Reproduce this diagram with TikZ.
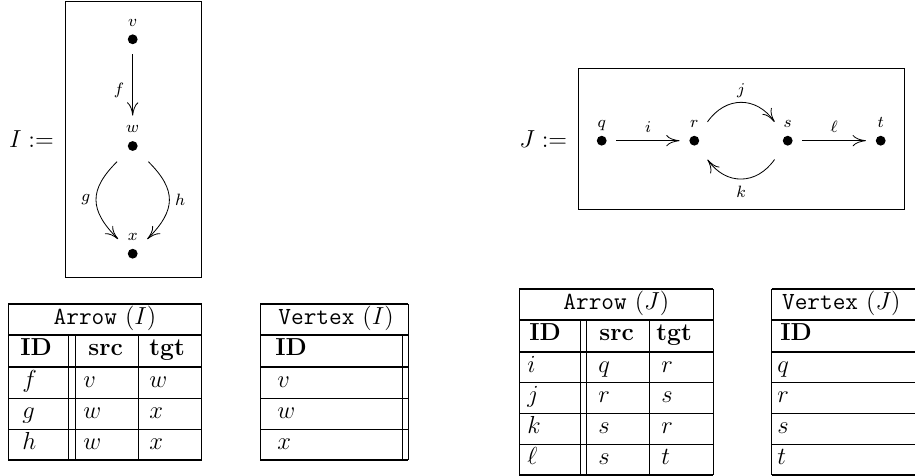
\documentclass[12pt,tikz,border=0pt]{standalone}
\usepackage{amsmath,amssymb}
\usetikzlibrary{arrows.meta, positioning, calc}

\begin{document}
\begin{tikzpicture}[
    x=0.4878pt, y=-0.4878pt,
    dot/.style={circle, fill, inner sep=0pt, minimum size=4.8pt},
    vlab/.style={font=\fontsize{8.5}{10}\selectfont, inner sep=0pt, text height=5.5pt, text depth=1.8pt},
    elab/.style={font=\fontsize{8.5}{10}\selectfont},
    arrow/.style={-{Computer Modern Rightarrow[length=6.5pt,width=5.5pt]}, shorten <=4.6pt, shorten >=4.6pt},
    bent/.style={arrow, shorten <=8.2pt, shorten >=7.4pt, looseness=1.45},
    graphbox/.style={draw, inner sep=0pt},
    cell/.style={anchor=west, inner sep=0pt, text height=7.5pt, text depth=3pt},
    title/.style={cell, anchor=center},
    rule/.style={line width=0.4pt},
    titlerule/.style={line width=0.6pt},
    headrule/.style={line width=1pt},
    outerrule/.style={line width=0.8pt}
]
\useasboundingbox (0,0) rectangle (915,476);

% graph I
\node[graphbox, minimum width=66.7pt, minimum height=134.6pt] (boxI) at (133.35,139) {};
\node[left=1pt of boxI] (defI) {$I :=$};

\node[dot] (v) at (132.7,39.3) {};
\node[dot] (w) at (132.7,146) {};
\node[dot] (x) at (132.7,253.7) {};
\node[vlab, above=1.8pt of v] (vl) {$v$};
\node[vlab, above=1.8pt of w] (wl) {$w$};
\node[vlab, above=1.8pt of x] (xl) {$x$};

\draw[arrow, shorten >=2.7pt] (v) -- (wl) node[elab, left, pos=0.6] {$f$};
\draw[bent] (w) to[out=-135, in=135] node[elab, left] {$g$} (x);
\draw[bent] (w) to[out=-45, in=45] node[elab, right] {$h$} (x);

% graph J
\node[graphbox, minimum width=158.9pt, minimum height=68.6pt] (boxJ) at (741.15,138.65) {};
\node[left=1pt of boxJ] (defJ) {$J :=$};

\node[dot] (q) at (601.7,140.7) {};
\node[dot] (r) at (694.3,140.7) {};
\node[dot] (s) at (787.7,140.7) {};
\node[dot] (t) at (880.7,140.7) {};
\node[vlab, above=1.8pt of q] (ql) {$q$};
\node[vlab, above=1.8pt of r] (rl) {$r$};
\node[vlab, above=1.8pt of s] (sl) {$s$};
\node[vlab, above=1.8pt of t] (tl) {$t$};

\draw[arrow] (q) -- node[elab, above] {$i$} (r);
\draw[bent, shorten <=8.6pt, shorten >=8.6pt] (r) to[out=55, in=125] node[elab, above] {$j$} (s);
\draw[bent, shorten <=8.6pt, shorten >=8.6pt] (s) to[out=-125, in=-55] node[elab, below, yshift=-1pt] {$k$} (r);
\draw[arrow] (s) -- node[elab, above] {$\ell$} (t);

% table Arrow (I)
\draw[outerrule] (8.3,304) -- (201.7,304);
\draw[titlerule] (8.3,335) -- (201.7,335);
\draw[headrule] (8.3,367.3) -- (201.7,367.3);
\foreach \y in {398.3,429.3} {\draw[rule] (8.3,\y) -- (201.7,\y);}
\draw[outerrule] (8.3,460) -- (201.7,460);
\foreach \x in {8.3,201.7} {\draw[rule] (\x,304) -- (\x,460);}
\foreach \x in {68.3,75,138.3} {\draw[rule] (\x,335) -- (\x,460);}

\node[title] (aI-title) at (105,319.5) {\texttt{Arrow} $(I)$};
\node[cell] (aI-id) at (20,351.2) {\textbf{ID}};
\node[cell] (aI-src) at (88,351.2) {\textbf{src}};
\node[cell] (aI-tgt) at (149,351.2) {\textbf{tgt}};
\foreach \id/\src/\tgt [count=\k] in {f/v/w, g/w/x, h/w/x} {
    \node[cell] (aI-id-\k) at (22,{351.8+31*\k}) {$\id$};
    \node[cell] (aI-src-\k) at (83,{351.8+31*\k}) {$\src$};
    \node[cell] (aI-tgt-\k) at (149,{351.8+31*\k}) {$\tgt$};
}

% table Vertex (I)
\draw[outerrule] (260,304) -- (408.3,304);
\draw[titlerule] (260,335) -- (408.3,335);
\draw[headrule] (260,367.3) -- (408.3,367.3);
\foreach \y in {398.3,429.3} {\draw[rule] (260,\y) -- (408.3,\y);}
\draw[outerrule] (260,460) -- (408.3,460);
\foreach \x in {260,408.3} {\draw[rule] (\x,304) -- (\x,460);}
\draw[rule] (402.7,335) -- (402.7,460);

\node[cell] (vI-title) at (278,319.5) {\texttt{Vertex} $(I)$};
\node[cell] (vI-id) at (275,351.2) {\textbf{ID}};
\foreach \id [count=\k] in {v,w,x} {
    \node[cell] (vI-id-\k) at (277,{351.8+31*\k}) {$\id$};
}

% table Arrow (J)
\draw[outerrule] (519.3,289) -- (713.3,289);
\draw[titlerule] (519.3,320) -- (713.3,320);
\draw[headrule] (519.3,351.7) -- (713.3,351.7);
\foreach \y in {382.7,413.3,444} {\draw[rule] (519.3,\y) -- (713.3,\y);}
\draw[outerrule] (519.3,475) -- (713.3,475);
\foreach \x in {519.3,713.3} {\draw[rule] (\x,289) -- (\x,475);}
\foreach \x in {580,586,649.3} {\draw[rule] (\x,320) -- (\x,475);}

\node[title] (aJ-title) at (616.3,304.5) {\texttt{Arrow} $(J)$};
\node[cell] (aJ-id) at (529,335.9) {\textbf{ID}};
\node[cell] (aJ-src) at (599,335.9) {\textbf{src}};
\node[cell] (aJ-tgt) at (656,335.9) {\textbf{tgt}};
\foreach \id/\src/\tgt [count=\k] in {i/q/r, j/r/s, k/s/r, \ell/s/t} {
    \node[cell] (aJ-id-\k) at (527,{336.6+30.8*\k}) {$\id$};
    \node[cell] (aJ-src-\k) at (598,{336.6+30.8*\k}) {$\src$};
    \node[cell] (aJ-tgt-\k) at (661,{336.6+30.8*\k}) {$\tgt$};
}

% table Vertex (J)
\draw[outerrule] (771.7,289) -- (915,289);
\draw[titlerule] (771.7,320) -- (915,320);
\draw[headrule] (771.7,351.7) -- (915,351.7);
\foreach \y in {382.7,413.3,444} {\draw[rule] (771.7,\y) -- (915,\y);}
\draw[outerrule] (771.7,475) -- (915,475);
\draw[rule] (771.7,289) -- (771.7,475);

\node[cell] (vJ-title) at (781.7,304.5) {\texttt{Vertex} $(J)$};
\node[cell] (vJ-id) at (780,335.9) {\textbf{ID}};
\foreach \id [count=\k] in {q,r,s,t} {
    \node[cell] (vJ-id-\k) at (777,{336.6+30.8*\k}) {$\id$};
}
\end{tikzpicture}
\end{document}
